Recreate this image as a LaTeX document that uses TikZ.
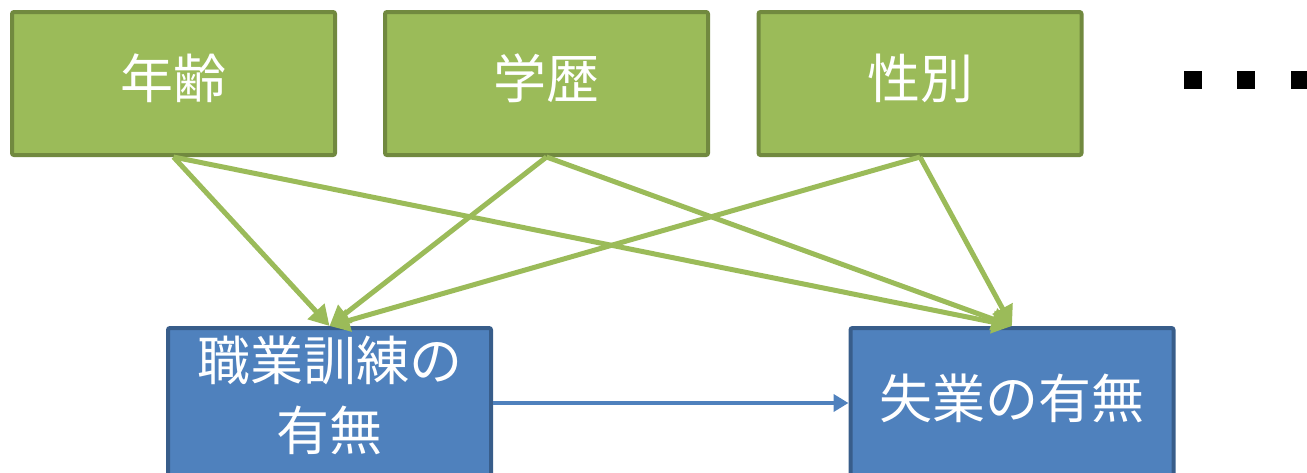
\documentclass[tikz,border=0pt]{standalone}
\usepackage{fontspec}
\newfontfamily\jp{Noto Sans CJK JP}
\usetikzlibrary{arrows.meta}
\definecolor{gfill}{HTML}{9BBB59}
\definecolor{gline}{HTML}{71893F}
\definecolor{bfill}{HTML}{4F81BD}
\definecolor{bline}{HTML}{385D8A}
\newcommand\mylbl[2]{\makebox[0pt]{\raisebox{#1}[0pt][0pt]{#2}}}
\tikzset{
  gbox/.style={draw=gline, fill=gfill, line width=4pt, rounded corners=2pt,
    minimum width=323pt, minimum height=143pt, inner sep=0pt,
    text=white, font=\jp\fontsize{53}{60}\selectfont},
  bbox/.style={draw=bline, fill=bfill, line width=4pt, rounded corners=2pt,
    minimum width=323pt, minimum height=150pt, inner sep=0pt,
    text=white, font=\jp\fontsize{53}{70}\selectfont},
  garrow/.style={draw=gfill, line width=5pt,
    -{Triangle[length=20pt,width=22pt]}},
  barrow/.style={draw=bfill, line width=4.5pt,
    -{Triangle[length=15pt,width=17pt]}},
}
\begin{document}
\begin{tikzpicture}[x=1pt,y=-1pt]
\useasboundingbox (0,0) rectangle (1307,472);
\node[gbox] (g1) at (173.5,83.5) {\mylbl{-14.5pt}{年齢}};
\node[gbox] (g2) at (546.5,83.5) {\mylbl{-14.5pt}{学歴}};
\node[gbox] (g3) at (920,83.5) {\mylbl{-14.5pt}{性別}};
\node[bbox] (b1) at (329.5,403) {\mylbl{23pt}{職業訓練の}\mylbl{-47pt}{有無}};
\node[bbox] (b2) at (1012,403) {\mylbl{-15pt}{失業の有無}};
\foreach \g in {g1,g2,g3}{
  \draw[garrow] (\g.south) -- (b1.north);
  \draw[garrow] (\g.south) -- (b2.north);
}
\draw[barrow] (b1.east) -- (b2.west);
\fill[black] (1184,71) rectangle (1202,89);
\fill[black] (1237,71) rectangle (1255,89);
\fill[black] (1291,71) rectangle (1309,89);
\end{tikzpicture}
\end{document}
